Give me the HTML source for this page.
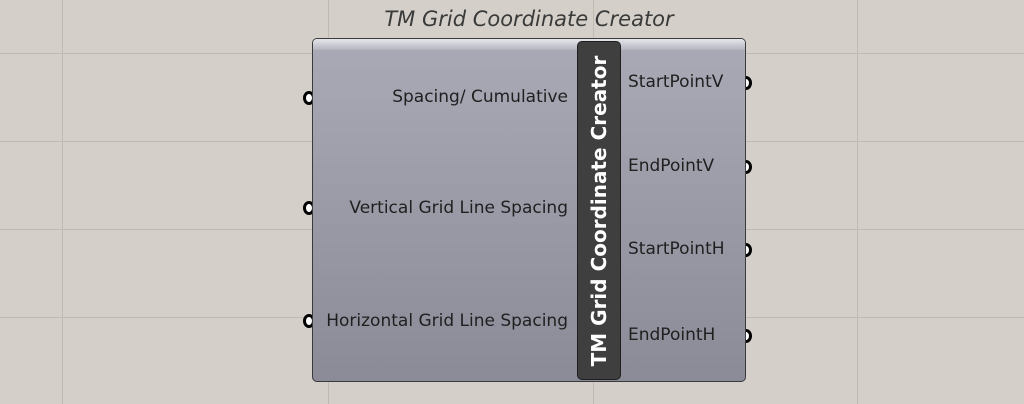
<!DOCTYPE html>
<html><head><style>
html,body{margin:0;padding:0}
body{width:1024px;height:404px;position:relative;overflow:hidden;background:#d4d0c9;font-family:"Liberation Sans","DejaVu Sans",sans-serif}
.v{position:absolute;top:0;width:1px;height:404px;background:#bfbbb3}
.h{position:absolute;left:0;height:1px;width:1024px;background:#bfbbb3}
#comp{position:absolute;left:312px;top:38px;width:432px;height:342px;border:1.5px solid #3a3a3a;border-radius:5px;background:linear-gradient(#aaaab7,#8b8b97);overflow:hidden}
#comp .top{position:absolute;left:0;top:0;right:0;height:11px;background:linear-gradient(#e6e6ec,#b4b4bf)}
#strip{position:absolute;left:577px;top:41px;width:42px;height:337px;background:#3f3f3f;border:1.5px solid #1e1e1e;border-radius:5px}
#strip span{position:absolute;left:50%;top:50%;transform:translate(-50%,-50%) rotate(-90deg);white-space:nowrap;color:#fff;font-weight:bold;font-size:20px;font-family:"DejaVu Sans",sans-serif}
.l{position:absolute;font-size:17px;color:#1f1f1f;white-space:nowrap;font-family:"DejaVu Sans",sans-serif}
.in{right:456px}
.g{position:absolute;width:6px;height:8px;border:3px solid #000;border-radius:50%;background:#fff}
#title{position:absolute;left:0;width:1058px;top:7px;text-align:center;font-style:italic;font-size:21px;color:#3a3a3a;font-family:"DejaVu Sans",sans-serif}
</style></head><body>
<div class="v" style="left:62px"></div><div class="v" style="left:328px"></div><div class="v" style="left:593px"></div><div class="v" style="left:857px"></div>
<div class="h" style="top:53px"></div><div class="h" style="top:141px"></div><div class="h" style="top:229px"></div><div class="h" style="top:317px"></div>
<div id="title">TM Grid Coordinate Creator</div>
<div class="g" style="left:303px;top:91px"></div>
<div class="g" style="left:303px;top:201px"></div>
<div class="g" style="left:303px;top:314px"></div>
<div class="g" style="left:740px;top:76px"></div>
<div class="g" style="left:740px;top:160px"></div>
<div class="g" style="left:740px;top:243px"></div>
<div class="g" style="left:740px;top:329px"></div>
<div id="comp"><div class="top"></div></div>
<div id="strip"><span>TM Grid Coordinate Creator</span></div>
<div class="l in" style="top:87px">Spacing/ Cumulative</div>
<div class="l in" style="top:198px">Vertical Grid Line Spacing</div>
<div class="l in" style="top:311px">Horizontal Grid Line Spacing</div>
<div class="l" style="left:628px;top:72px">StartPointV</div>
<div class="l" style="left:628px;top:156px">EndPointV</div>
<div class="l" style="left:628px;top:239px">StartPointH</div>
<div class="l" style="left:628px;top:325px">EndPointH</div>
</body></html>
